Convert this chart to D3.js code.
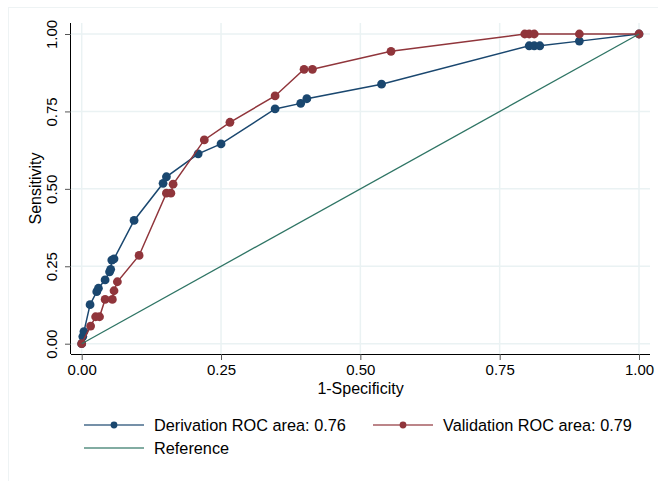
<!DOCTYPE html>
<html>
<head>
<meta charset="utf-8">
<script src="https://cdn.jsdelivr.net/npm/d3@7"></script>
<style>
  body { margin: 0; background: #fff; }
  text { font-family: "Liberation Sans", Arial, sans-serif; fill: #000; }
</style>
</head>
<body>
<div id="chart"></div>
<script>
// ROC points (1-specificity, sensitivity)
var derivFpr = [0, 0.002, 0.004, 0.015, 0.027, 0.030, 0.042, 0.050, 0.052, 0.054, 0.058, 0.094, 0.146, 0.152, 0.209, 0.250, 0.347, 0.393, 0.404, 0.538, 0.803, 0.812, 0.822, 0.893, 1];
var derivTpr = [0, 0.023, 0.039, 0.126, 0.168, 0.179, 0.206, 0.232, 0.240, 0.270, 0.274, 0.398, 0.518, 0.539, 0.613, 0.645, 0.758, 0.776, 0.791, 0.838, 0.962, 0.962, 0.962, 0.977, 1];

var valFpr = [0, 0.016, 0.025, 0.032, 0.042, 0.055, 0.058, 0.064, 0.103, 0.152, 0.160, 0.164, 0.220, 0.266, 0.347, 0.399, 0.414, 0.555, 0.795, 0.803, 0.812, 0.893, 1];
var valTpr = [0, 0.057, 0.087, 0.087, 0.143, 0.143, 0.171, 0.200, 0.285, 0.486, 0.486, 0.515, 0.658, 0.715, 0.800, 0.886, 0.886, 0.944, 1, 1, 1, 1, 1];

var refLine = [0, 1];
var ticks = [0, 0.25, 0.5, 0.75, 1];
var legendLabels = ["Derivation ROC area: 0.76", "Validation ROC area: 0.79", "Reference"];

var W = 658, H = 481;
var colBlue = "#1a476f", colRed = "#90353b", colRef = "#2f7565", colGrid = "#eaf2f3";

var svg = d3.select("#chart").append("svg")
  .attr("width", W).attr("height", H);

// faint outer frame
svg.append("rect")
  .attr("x", 8.5).attr("y", 7.5).attr("width", 700).attr("height", 520)
  .attr("fill", "none").attr("stroke", "#eef3f4").attr("stroke-width", 1);

// plot region
var pLeft = 71, pRight = 650, pTop = 23, pBottom = 354;
var x = d3.scaleLinear().domain([0, 1]).range([81.7, 639]);
var y = d3.scaleLinear().domain([0, 1]).range([343.7, 34]);

// grid
svg.append("g").selectAll("line").data(ticks).enter().append("line")
  .attr("x1", pLeft).attr("x2", pRight)
  .attr("y1", function(d) { return y(d); }).attr("y2", function(d) { return y(d); })
  .attr("stroke", colGrid).attr("stroke-width", 1.5);
svg.append("g").selectAll("line").data(ticks).enter().append("line")
  .attr("y1", pTop).attr("y2", pBottom)
  .attr("x1", function(d) { return x(d); }).attr("x2", function(d) { return x(d); })
  .attr("stroke", colGrid).attr("stroke-width", 1.5);

// axes
var xAxis = svg.append("g")
  .attr("transform", "translate(0," + pBottom + ")")
  .call(d3.axisBottom(x).tickValues(ticks).tickFormat(d3.format(".2f")).tickSize(6).tickSizeOuter(0));
xAxis.select(".domain").attr("d", "M" + pLeft + ",0.5H" + pRight).attr("stroke", "#000");
xAxis.selectAll(".tick line").attr("stroke", "#555");
xAxis.selectAll("text").attr("font-size", 15).attr("dy", "0").attr("y", 21)
  .attr("font-family", "Liberation Sans, Arial, sans-serif");

var yAxis = svg.append("g")
  .attr("transform", "translate(" + pLeft + ",0)")
  .call(d3.axisLeft(y).tickValues(ticks).tickFormat(d3.format(".2f")).tickSize(6).tickSizeOuter(0));
yAxis.select(".domain").attr("d", "M-0.5," + pTop + "V" + pBottom).attr("stroke", "#000");
yAxis.selectAll(".tick line").attr("stroke", "#555");
yAxis.selectAll("text")
  .attr("font-size", 15).attr("font-family", "Liberation Sans, Arial, sans-serif")
  .attr("x", null).attr("dy", null)
  .attr("text-anchor", "middle")
  .attr("transform", "translate(-18,0) rotate(-90)")
  .attr("y", 0).attr("dominant-baseline", "middle");

svg.append("text").attr("x", (pLeft + pRight) / 2).attr("y", 394)
  .attr("text-anchor", "middle").attr("font-size", 16).text("1-Specificity");
svg.append("text")
  .attr("transform", "translate(41," + ((pTop + pBottom) / 2) + ") rotate(-90)")
  .attr("text-anchor", "middle").attr("font-size", 16).text("Sensitivity");

// series
var line = d3.line().x(function(d) { return x(d[0]); }).y(function(d) { return y(d[1]); });

function series(fpr, tpr, col) {
  var pts = d3.zip(fpr, tpr);
  svg.append("path").attr("d", line(pts))
    .attr("fill", "none").attr("stroke", col).attr("stroke-width", 1.5);
  svg.append("g").selectAll("circle").data(pts).enter().append("circle")
    .attr("cx", function(d) { return x(d[0]); })
    .attr("cy", function(d) { return y(d[1]); })
    .attr("r", 4.4).attr("fill", col);
}
series(derivFpr, derivTpr, colBlue);
series(valFpr, valTpr, colRed);

svg.append("path").attr("d", line(d3.zip(refLine, refLine)))
  .attr("fill", "none").attr("stroke", colRef).attr("stroke-width", 1.3);

// legend
var leg = [
  { x: 84, y: 425, col: colBlue, dot: true, label: legendLabels[0] },
  { x: 373, y: 425, col: colRed, dot: true, label: legendLabels[1] },
  { x: 84, y: 448, col: colRef, dot: false, label: legendLabels[2] }
];
var lg = svg.append("g").selectAll("g").data(leg).enter().append("g")
  .attr("transform", function(d) { return "translate(" + d.x + "," + d.y + ")"; });
lg.append("line").attr("x1", 0).attr("x2", 60).attr("y1", 0).attr("y2", 0)
  .attr("stroke", function(d) { return d.col; }).attr("stroke-width", 1.5).attr("stroke-opacity", 0.8);
lg.filter(function(d) { return d.dot; }).append("circle")
  .attr("cx", 30).attr("cy", 0).attr("r", 3.4).attr("fill", function(d) { return d.col; });
lg.append("text").attr("x", 70).attr("y", 0).attr("dy", "0.35em")
  .attr("font-size", 16.3).text(function(d) { return d.label; });
</script>
</body>
</html>
